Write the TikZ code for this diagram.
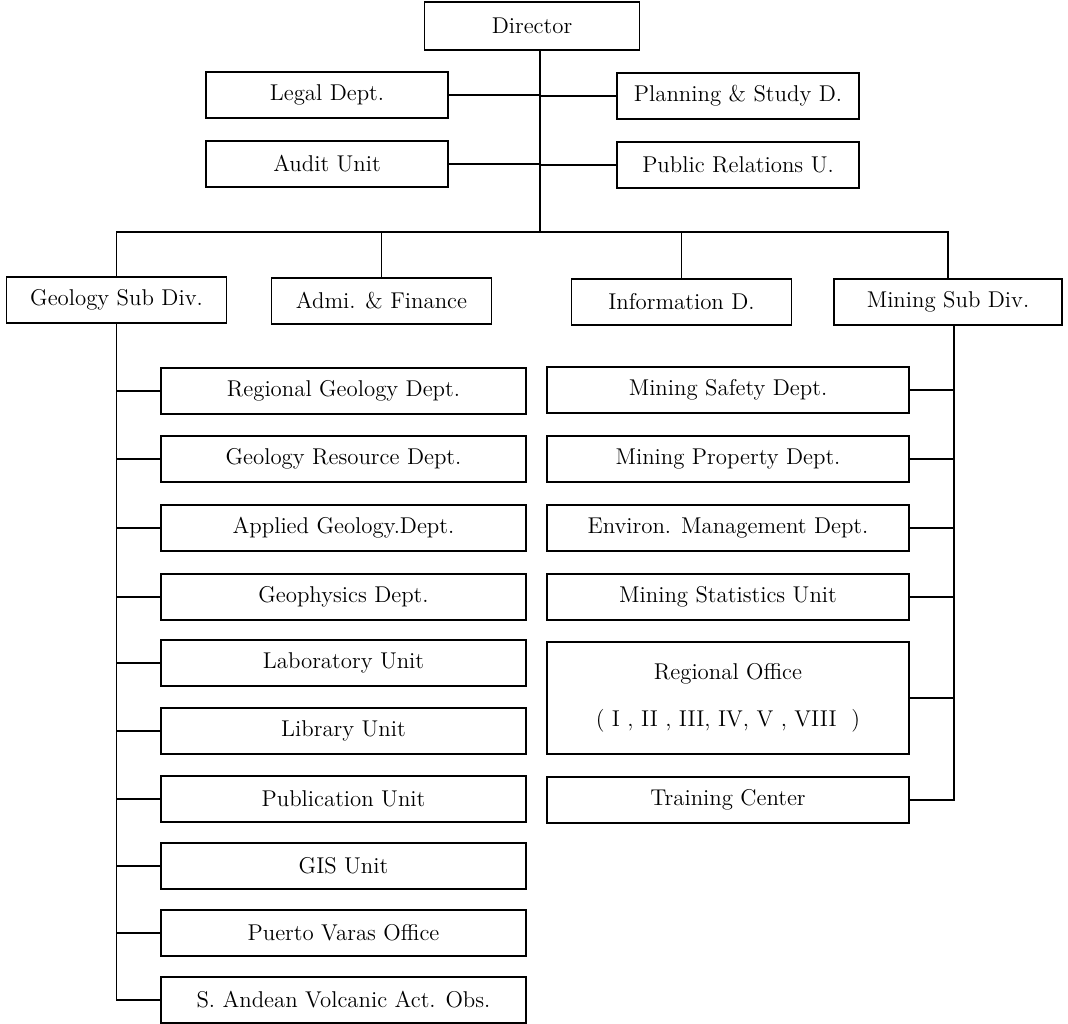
\documentclass[tikz,border=0pt]{standalone}
\usetikzlibrary{positioning}

\begin{document}
\begin{tikzpicture}[x=0.02cm,y=-0.02cm,line width=0.9pt,
  unit/.style={draw,inner sep=0pt,minimum height=0.92cm,font=\fontsize{13}{15}\selectfont},
  staff/.style={unit,minimum width=4.84cm},
  divn/.style={unit,minimum width=4.4cm},
  geobox/.style={unit,minimum width=7.3cm},
  minbox/.style={unit,minimum width=7.24cm}]
\useasboundingbox (0,0) rectangle (1068,1024);

\node[unit,minimum width=4.3cm,minimum height=0.96cm] (dir) at (532,26) {Director};
\node[staff] (legal) at (327,95) {Legal Dept.};
\node[staff] (audit) at (327,164) {Audit Unit};
\node[staff] (plan) at (738,96) {Planning \& Study D.};
\node[staff] (pr) at (738,165) {Public Relations U.};
\coordinate (bus) at (540,232);

\node[divn] (geo) at (116.5,300) {Geology Sub Div.};
\node[divn] (adm) at (381.5,301) {Admi. \& Finance};
\node[divn] (info) at (681.5,302) {Information D.};
\node[divn,minimum width=4.56cm] (mine) at (948,302) {Mining Sub Div.};

\draw ([xshift=0.16cm]dir.south) -- (bus); % trunk
\draw (legal.east) -- (legal.east -| bus) (plan.west) -- (plan.west -| bus);
\draw (audit.east) -- (audit.east -| bus) (pr.west) -- (pr.west -| bus);
\draw (geo.north) |- (bus) -| (mine.north);
\draw (adm.north) -- (adm.north |- bus);
\draw (info.north) -- (info.north |- bus);

% geology side
\foreach \y/\nm/\txt in {391/rgd/Regional Geology Dept., 459/grd/Geology Resource Dept.,
  528/agd/Applied Geology.Dept., 597/gph/Geophysics Dept., 663/lab/Laboratory Unit,
  731/lib/Library Unit, 799/pub/Publication Unit, 866/gis/GIS Unit,
  933/pvo/Puerto Varas Office, 1000/sav/S. Andean Volcanic Act. Obs.}
{
  \node[geobox] (\nm) at (343.5,\y) {\txt};
  \draw (geo.south |- \nm.west) -- (\nm.west);
}
\draw (geo.south) |- (sav.west);

% mining side
\foreach \y/\nm/\txt in {390/msd/Mining Safety Dept., 459/mpd/Mining Property Dept.,
  528/emd/Environ. Management Dept., 597/msu/Mining Statistics Unit, 800/trc/Training Center}
{
  \node[minbox] (\nm) at (728,\y) {\txt};
  \draw ([xshift=0.12cm]mine.south |- \nm.east) -- (\nm.east);
}
\node[minbox,minimum height=2.24cm,align=center] (reg) at (728,698)
  {Regional Office\\[12pt]( I , II , III, IV, V , VIII\ \ )};
\draw ([xshift=0.12cm]mine.south |- reg.east) -- (reg.east);
\draw ([xshift=0.12cm]mine.south) |- (trc.east);
\end{tikzpicture}
\end{document}
